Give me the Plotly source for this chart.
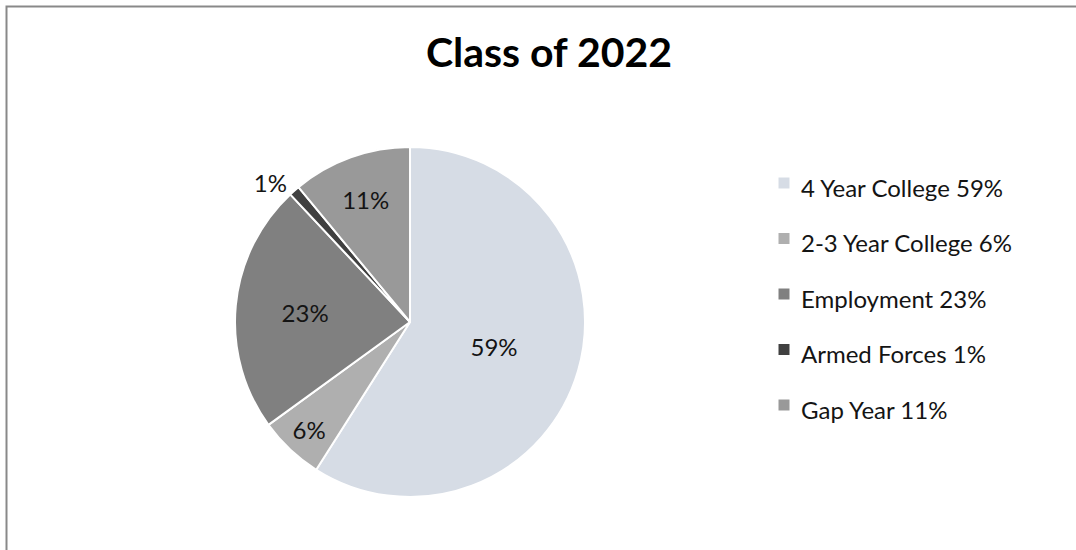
import plotly.graph_objects as go

W, H = 1076, 550

title_text = "Class of 2022"
categories = ["4 Year College", "2-3 Year College", "Employment", "Armed Forces", "Gap Year"]
values = [59, 6, 23, 1, 11]
colors = ["#D6DCE5", "#AFAFAF", "#808080", "#404040", "#999999"]
label_positions = ["inside", "inside", "inside", "outside", "inside"]

FONT = "Lato, Carlito, Calibri, sans-serif"

fig = go.Figure()
fig.add_trace(go.Pie(
    labels=categories,
    values=values,
    sort=False,
    direction="clockwise",
    rotation=0,
    marker=dict(colors=colors, line=dict(color="white", width=2)),
    texttemplate="%{value}%",
    textposition=label_positions,
    insidetextorientation="horizontal",
    textfont=dict(family=FONT, size=24, color="#141414"),
    showlegend=False,
    hoverinfo="label+percent",
    domain=dict(x=[235 / W, 585 / W], y=[53 / H, 403 / H]),
))

# legend (built from the category arrays)
shapes = [dict(type="rect", xref="paper", yref="paper",
               x0=6.5 / W, x1=1.2, y0=-0.2, y1=1 - 6.5 / H,
               line=dict(color="#898989", width=2), fillcolor="rgba(0,0,0,0)")]
annotations = []
leg_x = 784
leg_y0 = 187
leg_dy = 55.5
for i, (c, v, col) in enumerate(zip(categories, values, colors)):
    yc = leg_y0 + i * leg_dy
    shapes.append(dict(type="rect", xref="paper", yref="paper",
                       x0=(leg_x - 5.5) / W, x1=(leg_x + 5.5) / W,
                       y0=1 - (yc - 4 + 5.5) / H, y1=1 - (yc - 4 - 5.5) / H,
                       line=dict(width=0), fillcolor=col))
    annotations.append(dict(xref="paper", yref="paper", x=799 / W, y=1 - yc / H,
                            xanchor="left", yanchor="middle", showarrow=False,
                            text=f"{c} {v}%",
                            font=dict(family=FONT, size=24, color="#141414")))

fig.update_layout(
    width=W, height=H,
    margin=dict(l=0, r=0, t=0, b=0),
    paper_bgcolor="white", plot_bgcolor="white",
    title=dict(text=f"<b>{title_text}</b>", x=549 / W, xanchor="center",
               y=1 - 53 / H, yanchor="middle", yref="container",
               font=dict(family=FONT, size=41, color="#000000")),
    shapes=shapes,
    annotations=annotations,
)

fig.write_html("out.html")
